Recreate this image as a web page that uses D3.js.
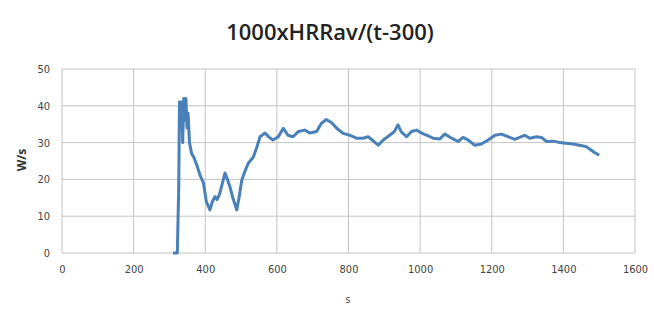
<!DOCTYPE html>
<html lang="en">
<head>
    <meta charset="UTF-8">
    <title>1000xHRRav/(t-300)</title>
    <script src="https://d3js.org/d3.v7.min.js"></script>
    <style>
        body { margin: 0; background: #fff; }
        .title { font-family: "Open Sans", sans-serif; font-size: 22px; font-weight: 600; fill: #222; }
        .tick text { font-family: "DejaVu Sans Condensed", "DejaVu Sans", sans-serif; font-stretch: condensed; font-size: 11px; fill: #444; }
        .grid line { stroke: #c4c4c4; stroke-width: 1px; }
        .axis-label { font-family: "Open Sans", sans-serif; fill: #333; }
    </style>
</head>
<body>
<div id="chart"></div>
<script>
    // time (s)
    const times = [310,318,322,326,328,331,334,337,340,343,346,349,352,356,362,368,376,386,395,403,413,420,427,433,440,448,455,462,469,477,488,496,502,510,520,534,545,553,567,578,589,604,618,631,645,660,678,692,711,724,738,753,767,785,804,822,840,855,869,883,897,915,928,938,947,962,976,990,1004,1018,1036,1055,1069,1088,1106,1120,1134,1152,1171,1190,1209,1227,1245,1264,1283,1292,1306,1325,1339,1353,1372,1390,1408,1427,1445,1464,1477,1487,1500];
    // 1000xHRRav/(t-300), W/s
    const values = [0,0,0,18,41,35,41,30,42,36,42,34,38,30,27,26,24,21,19,14,11.7,14,15.3,14.5,16,19,21.7,20,18,15,11.7,16,19.8,22,24.4,26,29,31.6,32.6,31.5,30.7,31.6,33.9,32,31.6,33,33.4,32.6,33,35.2,36.3,35.4,33.9,32.5,32,31.2,31.2,31.6,30.5,29.3,30.7,32,33,34.8,33,31.6,33,33.4,32.6,32,31.2,31,32.3,31.2,30.3,31.4,30.7,29.3,29.6,30.7,32,32.3,31.6,30.9,31.6,32,31.2,31.6,31.4,30.3,30.4,30,29.8,29.6,29.3,28.9,28,27.3,26.6];
    const xTicks = [0,200,400,600,800,1000,1200,1400,1600];
    const yTicks = [0,10,20,30,40,50];

    const width = 654, height = 312;
    const plotLeft = 62, plotRight = 635, plotTop = 69, plotBottom = 253;

    const x = d3.scaleLinear().domain([0, 1600]).range([plotLeft, plotRight]);
    const y = d3.scaleLinear().domain([0, 50]).range([plotBottom, plotTop]);

    const svg = d3.select("#chart").append("svg")
        .attr("width", width)
        .attr("height", height);

    // grid
    svg.append("g").attr("class", "grid")
        .selectAll("line").data(xTicks).enter().append("line")
        .attr("x1", d => x(d)).attr("x2", d => x(d))
        .attr("y1", plotTop).attr("y2", plotBottom);
    svg.append("g").attr("class", "grid")
        .selectAll("line").data(yTicks).enter().append("line")
        .attr("x1", plotLeft).attr("x2", plotRight)
        .attr("y1", d => y(d)).attr("y2", d => y(d));

    // axes (labels only)
    const xAxis = svg.append("g")
        .attr("transform", `translate(0,${plotBottom})`)
        .call(d3.axisBottom(x).tickValues(xTicks).tickFormat(d3.format("d")).tickSize(0).tickPadding(12));
    xAxis.select(".domain").remove();

    const yAxis = svg.append("g")
        .attr("transform", `translate(${plotLeft},0)`)
        .call(d3.axisLeft(y).tickValues(yTicks).tickFormat(d3.format("d")).tickSize(0).tickPadding(12));
    yAxis.select(".domain").remove();

    // line
    const pts = times.map((t, i) => [t, values[i]]);
    svg.append("path")
        .datum(pts)
        .attr("fill", "none")
        .attr("stroke", "#4a80b8")
        .attr("stroke-width", 3)
        .attr("stroke-linejoin", "round")
        .attr("d", d3.line().x(d => x(d[0])).y(d => y(d[1])));

    // title & labels
    svg.append("text").attr("class", "title")
        .attr("x", 330).attr("y", 40)
        .attr("text-anchor", "middle")
        .text("1000xHRRav/(t-300)");

    svg.append("text").attr("class", "axis-label")
        .attr("transform", "translate(26,160) rotate(-90)")
        .attr("text-anchor", "middle")
        .style("font-size", "12px").style("font-weight", "bold")
        .text("W/s");

    svg.append("text").attr("class", "axis-label")
        .attr("x", 348).attr("y", 303)
        .attr("text-anchor", "middle")
        .style("font-size", "10px")
        .text("s");
</script>
</body>
</html>
